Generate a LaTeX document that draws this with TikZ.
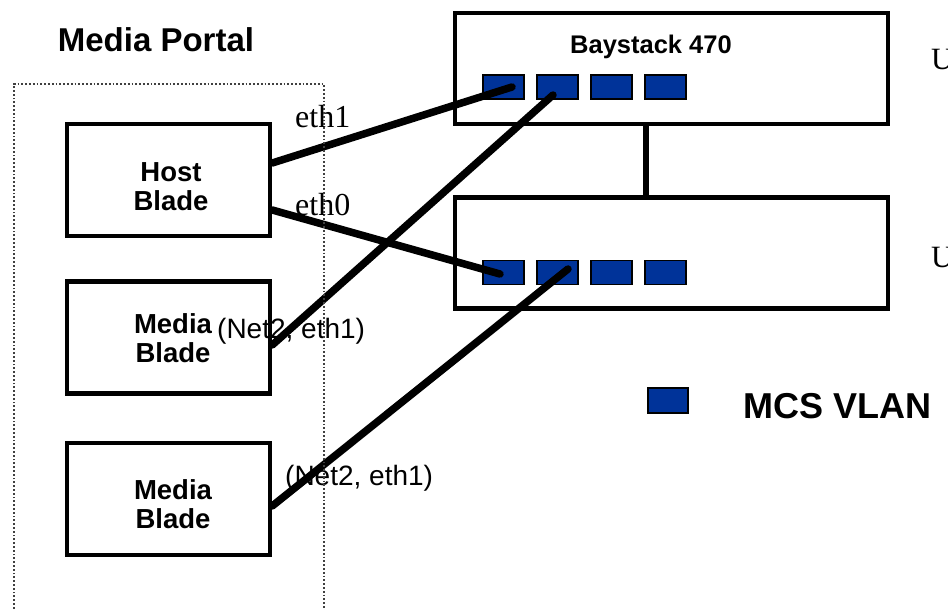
\documentclass[tikz,border=0pt]{standalone}
\usepackage{fontspec}
\setmainfont{Liberation Sans}
\newfontfamily\seriffont{Liberation Serif}
\definecolor{portblue}{RGB}{0,51,153}
\begin{document}
\begin{tikzpicture}[x=1pt,y=-1pt,
  blade/.style={draw, line width=4.5pt, minimum width=203pt, minimum height=112pt, inner sep=0pt},
  bladetext/.style={inner sep=0pt, font=\fontsize{27.5}{29}\selectfont\bfseries, align=center},
  switchbox/.style={draw, line width=4.5pt, minimum width=433pt, minimum height=111pt, inner sep=0pt},
  port/.style={draw=black, line width=1.2pt, fill=portblue, minimum width=41pt, minimum height=24pt, inner sep=0pt},
  cable/.style={line width=7.5pt, line cap=round},
  boldlbl/.style={inner sep=0pt, font=\bfseries},
  netlbl/.style={inner sep=0pt, anchor=base west, font=\fontsize{28}{28}\selectfont},
  ethlbl/.style={inner sep=0pt, anchor=base west, font=\seriffont\fontsize{32}{32}\selectfont}]
\useasboundingbox (0,0) rectangle (948,610);
\fill[white] (0,0) rectangle (948,610);

% titles and labels
\node[boldlbl, anchor=base, font=\fontsize{33}{33}\selectfont\bfseries] (mp) at (156,52) {Media Portal};
\node[boldlbl, anchor=base, font=\fontsize{25.5}{25.5}\selectfont\bfseries] (bs) at (651,54) {Baystack 470};
\node[boldlbl, anchor=base west, font=\fontsize{36}{36}\selectfont\bfseries] (mcs) at (743,418) {MCS VLAN};
\node[ethlbl] (e1) at (295,128) {eth1};
\node[ethlbl] (e0) at (295,215) {eth0};
\node[netlbl] (n1) at (217,338) {(Net2, eth1)};
\node[netlbl] (n2) at (285,485) {(Net2, eth1)};
\node[ethlbl, font=\seriffont\fontsize{31}{31}\selectfont] (u1) at (931,70) {U};
\node[ethlbl, font=\seriffont\fontsize{31}{31}\selectfont] (u2) at (931,267) {U};

% blades
\node[blade] (host) at (168.5,180) {};
\node[bladetext] (hosttext) at (171,187) {Host\\Blade};
\node[blade] (mb1) at (168.5,337.5) {};
\node[bladetext] (mb1text) at (173,338) {Media\\Blade};
\node[blade] (mb2) at (168.5,499) {};
\node[bladetext] (mb2text) at (173,504) {Media\\Blade};

% switches
\node[switchbox] (sw1) at (671.5,68.5) {};
\node[switchbox] (sw2) at (671.5,253) {};

% ports
\node[port] (t1) at (503.5,87) {};
\node[port] (t2) at (557.5,87) {};
\node[port] (t3) at (611.5,87) {};
\node[port] (t4) at (665.5,87) {};
\node[port] (b1) at (503.5,272.5) {};
\node[port] (b2) at (557.5,272.5) {};
\node[port] (b3) at (611.5,272.5) {};
\node[port] (b4) at (665.5,272.5) {};
\node[port, minimum width=40pt, minimum height=25pt] (leg) at (668,400.5) {};

% cables
\draw[cable] ([yshift=17pt]host.east) -- ([xshift=8.5pt]t1.center);
\draw[cable] ([yshift=-30pt]host.east) -- ([xshift=-3.5pt,yshift=-1.5pt]b1.center);
\draw[cable] ([yshift=-7.5pt]mb1.east) -- ([xshift=-4.5pt,yshift=-8pt]t2.center);
\draw[cable] ([yshift=-7pt]mb2.east) -- ([xshift=10.5pt,yshift=3.5pt]b2.center);
\draw[cable, line width=6.5pt] ([xshift=-25.5pt]sw1.south) -- ([xshift=-25.5pt]sw2.north);

% portal boundary
\draw[dotted, line width=1.8pt, black!75] (14,620) -- (14,84) -- (324,84) -- (324,620);
\end{tikzpicture}
\end{document}
